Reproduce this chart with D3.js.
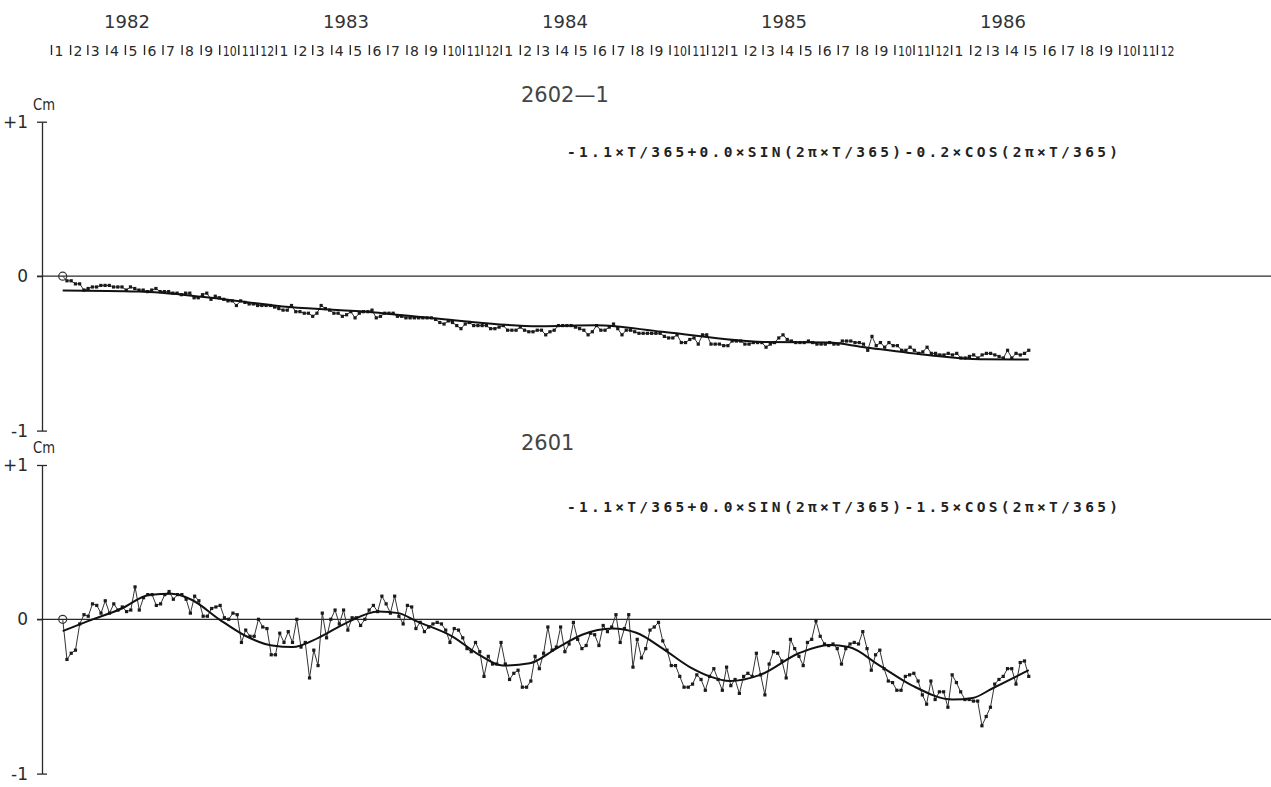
<!DOCTYPE html>
<html>
<head>
<meta charset="utf-8">
<script src="https://cdn.jsdelivr.net/npm/d3@7"></script>
<style>
  body { margin: 0; background: #fff; }
  svg { display: block; font-family: "DejaVu Sans", sans-serif; }
</style>
</head>
<body>
<div id="chart"></div>
<script>
// ---- data ----
const years = [1982, 1983, 1984, 1985, 1986];
const seriesStart = '1982-01-20';
const seriesEnd = '1986-05-07';

// 2602-1, roughly weekly readings (cm)
const topValues = [
  0, -0.03, -0.03, -0.05, -0.05, -0.09, -0.08, -0.07, -0.07, -0.06,
  -0.06, -0.06, -0.07, -0.07, -0.07, -0.09, -0.07, -0.08, -0.09, -0.09,
  -0.10, -0.09, -0.08, -0.10, -0.10, -0.10, -0.11, -0.11, -0.12, -0.11,
  -0.11, -0.14, -0.14, -0.12, -0.11, -0.15, -0.13, -0.14, -0.15, -0.16,
  -0.16, -0.19, -0.16, -0.17, -0.18, -0.18, -0.19, -0.19, -0.19, -0.19,
  -0.20, -0.21, -0.22, -0.22, -0.19, -0.23, -0.23, -0.24, -0.24, -0.26,
  -0.24, -0.19, -0.21, -0.22, -0.24, -0.24, -0.26, -0.25, -0.23, -0.27,
  -0.24, -0.23, -0.23, -0.22, -0.27, -0.26, -0.24, -0.24, -0.24, -0.26,
  -0.26, -0.27, -0.27, -0.27, -0.27, -0.27, -0.27, -0.27, -0.28, -0.30,
  -0.31, -0.29, -0.30, -0.32, -0.34, -0.31, -0.30, -0.32, -0.32, -0.32,
  -0.32, -0.34, -0.34, -0.33, -0.32, -0.35, -0.35, -0.35, -0.33, -0.35,
  -0.36, -0.36,
  -0.35, -0.35, -0.38, -0.36, -0.35, -0.32, -0.32, -0.32, -0.32, -0.33,
  -0.34, -0.35, -0.38, -0.36, -0.32, -0.35, -0.35, -0.33, -0.31, -0.34,
  -0.38, -0.35, -0.35, -0.36, -0.37, -0.37, -0.37, -0.37, -0.37, -0.37,
  -0.39, -0.40, -0.40, -0.38, -0.43, -0.43, -0.41, -0.40, -0.44, -0.38,
  -0.38, -0.44, -0.44, -0.44, -0.45, -0.45, -0.42, -0.42, -0.42, -0.44,
  -0.44, -0.43, -0.43, -0.43, -0.46, -0.44, -0.43, -0.40, -0.38, -0.41,
  -0.42, -0.43, -0.43, -0.43, -0.42, -0.43, -0.44, -0.44, -0.44, -0.43,
  -0.44, -0.44, -0.42, -0.42, -0.42, -0.43, -0.43, -0.44, -0.48, -0.39,
  -0.45, -0.43, -0.46, -0.43, -0.45, -0.45, -0.48, -0.48, -0.46, -0.48,
  -0.50, -0.49, -0.46, -0.50, -0.50, -0.51, -0.51, -0.50, -0.51, -0.50,
  -0.53, -0.53, -0.52, -0.51, -0.53, -0.51, -0.50, -0.50, -0.51, -0.52,
  -0.53, -0.48, -0.53, -0.50, -0.51, -0.50, -0.48
];

// 2601
const bottomValues = [
  0, -0.26, -0.22, -0.20, -0.03, 0.03, 0.02, 0.10, 0.09, 0.04,
  0.12, 0.04, 0.10, 0.06, 0.08, 0.05, 0.06, 0.21, 0.06, 0.14,
  0.16, 0.16, 0.09, 0.10, 0.16, 0.18, 0.13, 0.16, 0.16, 0.13,
  0.04, 0.15, 0.12, 0.02, 0.02, 0.07, 0.08, 0.09, 0.01, 0.00,
  0.04, 0.03, -0.15, -0.07, -0.11, -0.11, 0.00, -0.05, -0.06, -0.23,
  -0.23, -0.09, -0.15, -0.08, -0.15, 0.00, -0.18, -0.15, -0.38, -0.20,
  -0.30, 0.04, -0.12, 0.00, 0.06, -0.03, 0.06, -0.07, 0.01, 0.01,
  -0.04, 0.00, 0.06, 0.09, 0.05, 0.15, 0.10, 0.04, 0.15, 0.02,
  -0.03, 0.09, 0.08, -0.06, -0.02, -0.08, -0.05, -0.03, -0.02, -0.03,
  -0.07, -0.15, -0.06, -0.07, -0.12, -0.19, -0.21, -0.15, -0.21, -0.37,
  -0.24, -0.29, -0.29, -0.15, -0.29, -0.39, -0.35, -0.33, -0.44, -0.44,
  -0.40, -0.24, -0.32, -0.22, -0.05, -0.20, -0.18, -0.05, -0.21, -0.16,
  -0.02, -0.13, -0.19, -0.17, -0.09, -0.10, -0.17, -0.04, -0.08, -0.05,
  0.03, -0.15, -0.06, 0.03, -0.31, -0.13, -0.25, -0.19, -0.07, -0.05,
  -0.02, -0.14, -0.20, -0.30, -0.30, -0.37, -0.44, -0.44, -0.42, -0.36,
  -0.39, -0.46, -0.37, -0.32, -0.39, -0.46, -0.31, -0.43, -0.39, -0.48,
  -0.37, -0.35, -0.37, -0.22, -0.36, -0.49, -0.29, -0.21, -0.22, -0.27,
  -0.38, -0.13, -0.19, -0.24, -0.30, -0.15, -0.13, -0.01, -0.11, -0.16,
  -0.17, -0.16, -0.19, -0.29, -0.19, -0.16, -0.15, -0.16, -0.08, -0.19,
  -0.33, -0.23, -0.20, -0.32, -0.40, -0.41, -0.46, -0.46, -0.37, -0.36,
  -0.35, -0.40, -0.49, -0.55, -0.40, -0.52, -0.47, -0.47, -0.57, -0.36,
  -0.41, -0.47, -0.52, -0.52, -0.53, -0.53, -0.69, -0.63, -0.57, -0.42,
  -0.39, -0.37, -0.32, -0.32, -0.42, -0.28, -0.27, -0.37
];

// fitted curves, read at a few points along each smooth line
const topFitDates = ['1982-01-20', '1982-05-23', '1982-09-10', '1983-01-23', '1983-06-06',
  '1983-09-23', '1984-03-03', '1984-06-04', '1984-09-19', '1985-03-01', '1985-06-17',
  '1985-08-10', '1985-11-27', '1986-02-17', '1986-05-07'];
const topFitValues = [-0.093, -0.10, -0.136, -0.20, -0.233, -0.276, -0.324, -0.318,
  -0.36, -0.426, -0.43, -0.458, -0.512, -0.538, -0.54];

const bottomFitDates = ['1982-01-20', '1982-03-03', '1982-04-26', '1982-06-09', '1982-07-16',
  '1982-08-18', '1982-10-01', '1982-11-14', '1982-12-26', '1983-01-28', '1983-03-11',
  '1983-04-24', '1983-06-17', '1983-07-19', '1983-08-16', '1983-10-14', '1983-11-27',
  '1984-01-04', '1984-02-17', '1984-03-31', '1984-05-12', '1984-06-30', '1984-08-08',
  '1984-09-20', '1984-11-03', '1984-12-05', '1985-01-07', '1985-02-25', '1985-04-29',
  '1985-06-17', '1985-07-19', '1985-09-07', '1985-10-30', '1986-01-04', '1986-02-05',
  '1986-03-08', '1986-05-07'];
const bottomFitValues = [-0.076, -0.01, 0.07, 0.158, 0.165, 0.125, 0, -0.11, -0.17, -0.18,
  -0.12, -0.026, 0.05, 0.04, -0.01, -0.11, -0.23, -0.30, -0.285, -0.19, -0.10, -0.06,
  -0.087, -0.19, -0.31, -0.37, -0.40, -0.36, -0.22, -0.167, -0.18, -0.30, -0.43, -0.52,
  -0.51, -0.45, -0.33];

const topFormula = '-1.1×T/365+0.0×SIN(2π×T/365)-0.2×COS(2π×T/365)';
const bottomFormula = '-1.1×T/365+0.0×SIN(2π×T/365)-1.5×COS(2π×T/365)';

// ---- layout ----
const width = 1271, height = 787;
const axisX = 42;
const ink = '#2a2a2a';
const parse = d3.utcParse('%Y-%m-%d');

const panels = [
  { title: '2602—1', formula: topFormula, values: topValues,
    fitDates: topFitDates, fitValues: topFitValues,
    yTop: 121.7, yBottom: 430.6, titleY: 102, formulaY: 157 },
  { title: '2601', formula: bottomFormula, values: bottomValues,
    fitDates: bottomFitDates, fitValues: bottomFitValues,
    yTop: 465, yBottom: 773.6, titleY: 450, formulaY: 512 }
];

const svg = d3.select('#chart').append('svg')
  .attr('width', width)
  .attr('height', height);

const x = d3.scaleUtc()
  .domain([parse('1982-01-01'), parse('1987-01-01')])
  .range([51, 1176]);

// the printed year captions sit on their own spacing, not on the month ruler
const yearPos = d3.scalePoint().domain(years).range([127, 1003]);

svg.append('g').selectAll('text')
  .data(years)
  .join('text')
  .attr('x', d => yearPos(d))
  .attr('y', 28)
  .attr('text-anchor', 'middle')
  .attr('font-size', 18)
  .attr('fill', '#333')
  .text(d => d);

// month ruler
const monthAxis = svg.append('g')
  .attr('class', 'axis axis-month')
  .attr('transform', 'translate(0, 45)')
  .call(d3.axisBottom(x)
    .tickValues(d3.utcMonths(x.domain()[0], x.domain()[1]))
    .tickFormat(d => d.getUTCMonth() + 1)
    .tickSize(10));
monthAxis.select('.domain').remove();
monthAxis.selectAll('.tick line').attr('stroke', ink).attr('stroke-width', 1.4);
monthAxis.selectAll('.tick text')
  .attr('text-anchor', 'start')
  .attr('x', 3)
  .attr('y', 11)
  .attr('dy', 0)
  .attr('font-size', 14)
  .attr('font-family', '"DejaVu Sans", sans-serif')
  .attr('fill', ink)
  .each(function(d) {
    if (d.getUTCMonth() >= 9) {
      d3.select(this).attr('textLength', 14).attr('lengthAdjust', 'spacingAndGlyphs');
    }
  });

panels.forEach(p => {
  const y = d3.scaleLinear().domain([-1, 1]).range([p.yBottom, p.yTop]);
  const g = svg.append('g').attr('class', 'panel');

  const yAxis = g.append('g')
    .attr('class', 'axis axis-y')
    .attr('transform', `translate(${axisX}, 0)`)
    .call(d3.axisLeft(y)
      .tickValues([-1, 0, 1])
      .tickFormat(d => d > 0 ? '+1' : d < 0 ? '-1' : '0')
      .tickSizeInner(5)
      .tickSizeOuter(0)
      .tickPadding(9));
  yAxis.select('.domain').attr('stroke', ink).attr('stroke-width', 1.3);
  yAxis.selectAll('.tick line').attr('stroke', ink).attr('stroke-width', 1.3)
    .filter(d => d !== 0).attr('x2', -5).attr('x1', 5);
  yAxis.selectAll('.tick text')
    .attr('font-size', 17)
    .attr('font-family', '"DejaVu Sans", sans-serif')
    .attr('fill', ink);

  // zero line
  g.append('line')
    .attr('x1', axisX - 5).attr('x2', width)
    .attr('y1', y(0)).attr('y2', y(0))
    .attr('stroke', ink)
    .attr('stroke-width', 1.2);

  g.append('text')
    .attr('x', 33).attr('y', y(1) - 12)
    .attr('font-size', 15)
    .attr('textLength', 22).attr('lengthAdjust', 'spacingAndGlyphs')
    .attr('fill', ink)
    .text('Cm');

  g.append('text')
    .attr('x', 521).attr('y', p.titleY)
    .attr('font-size', 21)
    .attr('fill', '#444')
    .text(p.title);

  g.append('text')
    .attr('x', 567).attr('y', p.formulaY)
    .attr('font-family', '"DejaVu Sans Mono", monospace')
    .attr('font-weight', 'bold')
    .attr('font-size', 14.5)
    .attr('textLength', 551).attr('lengthAdjust', 'spacing')
    .attr('fill', '#222')
    .text(p.formula);

  // observations, evenly spaced in time
  const t0 = parse(seriesStart).getTime(), t1 = parse(seriesEnd).getTime();
  const n = p.values.length;
  const points = p.values.map((v, i) => ({ date: new Date(t0 + i * (t1 - t0) / (n - 1)), value: v }));

  const line = d3.line().x(d => x(d.date)).y(d => y(d.value));
  g.append('path')
    .datum(points)
    .attr('fill', 'none')
    .attr('stroke', '#333')
    .attr('stroke-width', 1)
    .attr('d', line);

  g.selectAll('.pt')
    .data(points.slice(1))
    .join('rect')
    .attr('class', 'pt')
    .attr('x', d => x(d.date) - 1.6)
    .attr('y', d => y(d.value) - 1.6)
    .attr('width', 3.2)
    .attr('height', 3.2)
    .attr('fill', '#1a1a1a');

  g.append('circle')
    .attr('cx', x(points[0].date))
    .attr('cy', y(points[0].value))
    .attr('r', 4)
    .attr('fill', 'none')
    .attr('stroke', '#333')
    .attr('stroke-width', 1.2);

  // fitted curve
  const fit = p.fitDates.map((d, i) => ({ date: parse(d), value: p.fitValues[i] }));
  g.append('path')
    .datum(fit)
    .attr('fill', 'none')
    .attr('stroke', '#111')
    .attr('stroke-width', 2)
    .attr('d', d3.line().curve(d3.curveMonotoneX).x(d => x(d.date)).y(d => y(d.value)));
});
</script>
</body>
</html>
